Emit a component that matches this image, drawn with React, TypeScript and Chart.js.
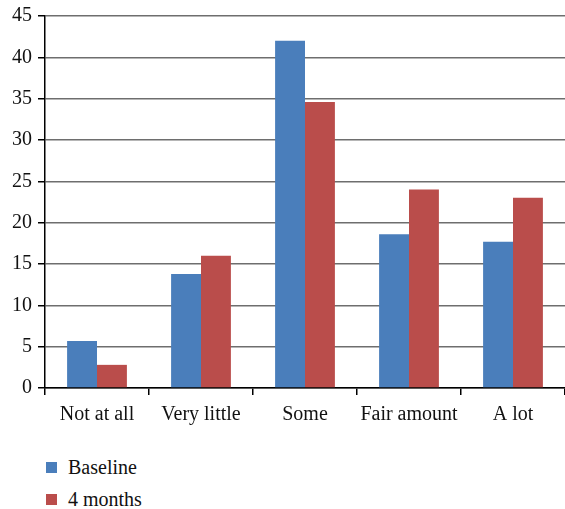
import React, { useEffect, useRef } from "react";
import { Chart, registerables } from "chart.js";

Chart.register(...registerables);

const categories = ["Not at all", "Very little", "Some", "Fair amount", "A lot"];
const baselineValues = [5.7, 13.8, 42.0, 18.6, 17.7];
const fourMonthValues = [2.8, 16.0, 34.6, 24.0, 23.0];
const seriesNames = ["Baseline", "4 months"];
const seriesColors = ["#4A7EBB", "#BA4D4B"];
const yMin = 0;
const yMax = 45;
const yStep = 5;

const FONT = "'Liberation Serif', 'DejaVu Serif', serif";

export default function App() {
  const ref = useRef<HTMLCanvasElement | null>(null);

  useEffect(() => {
    const canvas = ref.current;
    if (!canvas) return;
    const chart = new Chart(canvas, {
      type: "bar",
      data: {
        labels: categories,
        datasets: [
          {
            label: seriesNames[0],
            data: baselineValues,
            backgroundColor: seriesColors[0],
            barPercentage: 1,
            categoryPercentage: 0.575,
          },
          {
            label: seriesNames[1],
            data: fourMonthValues,
            backgroundColor: seriesColors[1],
            barPercentage: 1,
            categoryPercentage: 0.575,
          },
        ],
      },
      options: {
        animation: false,
        responsive: false,
        maintainAspectRatio: false,
        layout: { padding: { top: 1, right: 0, left: 6, bottom: 0 } },
        plugins: {
          legend: { display: false },
          tooltip: { enabled: false },
        },
        scales: {
          x: {
            grid: {
              drawOnChartArea: false,
              drawTicks: true,
              tickLength: 7,
              color: "#000",
              lineWidth: 1.5,
            },
            border: { color: "#000", width: 1.5 },
            ticks: {
              color: "#111",
              font: { family: FONT, size: 20 },
              padding: 8,
            },
          },
          y: {
            min: yMin,
            max: yMax,
            ticks: {
              stepSize: yStep,
              color: "#111",
              font: { family: FONT, size: 20 },
              padding: 6,
            },
            grid: {
              color: "#6e6e6e",
              lineWidth: 1.5,
              tickLength: 7,
              tickColor: "#000",
            },
            border: { color: "#000", width: 1.5 },
          },
        },
      },
    });
    return () => chart.destroy();
  }, []);

  return (
    <div
      style={{
        position: "fixed",
        left: 0,
        top: 0,
        width: 565,
        height: 509,
        background: "#fff",
        fontFamily: FONT,
        overflow: "hidden",
      }}
    >
      <canvas
        ref={ref}
        width={565}
        height={437}
        style={{ display: "block", marginTop: -2 }}
      />
      {seriesNames.map((name, i) => (
        <div
          key={name}
          style={{
            position: "absolute",
            left: 46,
            top: 454 + i * 32,
            height: 26,
            display: "flex",
            alignItems: "center",
            fontSize: 20,
            color: "#111",
          }}
        >
          <span
            style={{
              display: "inline-block",
              width: 11,
              height: 11,
              background: seriesColors[i],
              marginRight: 11,
            }}
          />
          {name}
        </div>
      ))}
    </div>
  );
}
